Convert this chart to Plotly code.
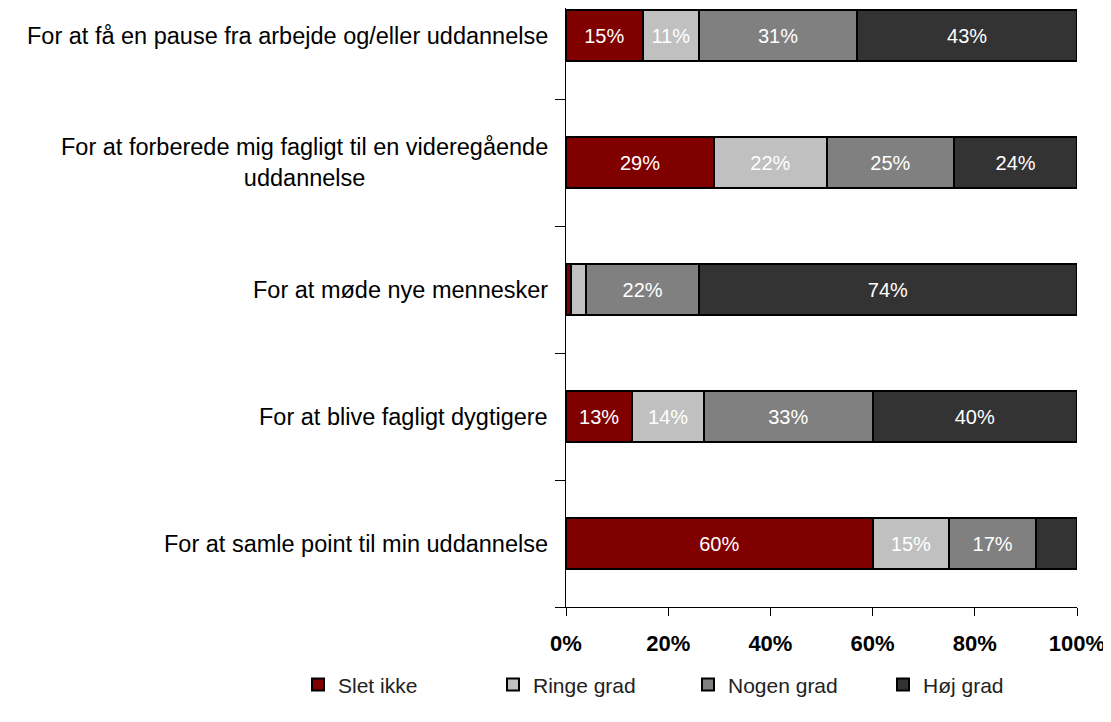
import plotly.graph_objs as go

categories = ["For at få en pause fra arbejde og/eller uddannelse",
              "For at forberede mig fagligt til en videregående<br>uddannelse",
              "For at møde nye mennesker",
              "For at blive fagligt dygtigere",
              "For at samle point til min uddannelse"]

slet_ikke = [15, 29, 1, 13, 60]
ringe_grad = [11, 22, 3, 14, 15]
nogen_grad = [31, 25, 22, 33, 17]
hoej_grad = [43, 24, 74, 40, 8]

series_names = ["Slet ikke", "Ringe grad", "Nogen grad", "Høj grad"]
series_values = [slet_ikke, ringe_grad, nogen_grad, hoej_grad]
colors = ["#800000", "#C0C0C0", "#808080", "#333333"]

x_ticks = [0, 20, 40, 60, 80, 100]

FONT = "Liberation Sans, Arial, sans-serif"

y_pos = list(range(len(categories)))

fig = go.Figure()

for name, vals, col in zip(series_names, series_values, colors):
    labels = [f"{v}%" if v >= 10 else "" for v in vals]
    fig.add_trace(go.Bar(
        y=y_pos, x=vals, name=name, orientation="h",
        marker=dict(color=col, line=dict(color="black", width=2)),
        width=0.4,
        text=labels, textposition="inside", insidetextanchor="middle",
        textfont=dict(color="white", size=20, family=FONT),
        textangle=0,
        cliponaxis=False,
    ))

# category labels as annotations so wrapped lines are centred
for i, cat in enumerate(categories):
    fig.add_annotation(x=0, y=i, xref="x", yref="y", text=cat,
                       showarrow=False, xanchor="right", yanchor="middle",
                       xshift=-16, align="center",
                       font=dict(size=23.5, color="black", family=FONT))

# page body adds 8px, so the figure is 8px smaller than the window
fig.update_layout(
    barmode="stack",
    width=1103, height=714,
    margin=dict(l=558, r=34, t=0, b=115, autoexpand=False),
    paper_bgcolor="white", plot_bgcolor="white",
    font=dict(family=FONT, size=18, color="black"),
    legend=dict(orientation="h", xref="paper", yref="paper",
                x=-0.5245, y=-0.13, xanchor="left", yanchor="middle",
                entrywidth=150, itemwidth=30, bgcolor="rgba(0,0,0,0)",
                font=dict(size=21, color="#222222", family=FONT),
                traceorder="normal"),
    xaxis=dict(range=[0, 100], tickvals=x_ticks,
               ticktext=[f"<b>{t}%</b>" for t in x_ticks],
               ticks="outside", ticklen=8, tickcolor="black",
               showline=True, linecolor="black", linewidth=1,
               showgrid=False, zeroline=False,
               tickfont=dict(size=22, color="black", family=FONT),
               ticklabelstandoff=9),
    yaxis=dict(range=[4.5, -0.217], tickvals=[], showticklabels=False,
               showline=True, linecolor="black", linewidth=1,
               showgrid=False, zeroline=False,
               minor=dict(tickvals=[0.5, 1.5, 2.5, 3.5, 4.5],
                          ticks="outside", ticklen=10,
                          tickcolor="black")),
)

fig.write_html("out.html")
